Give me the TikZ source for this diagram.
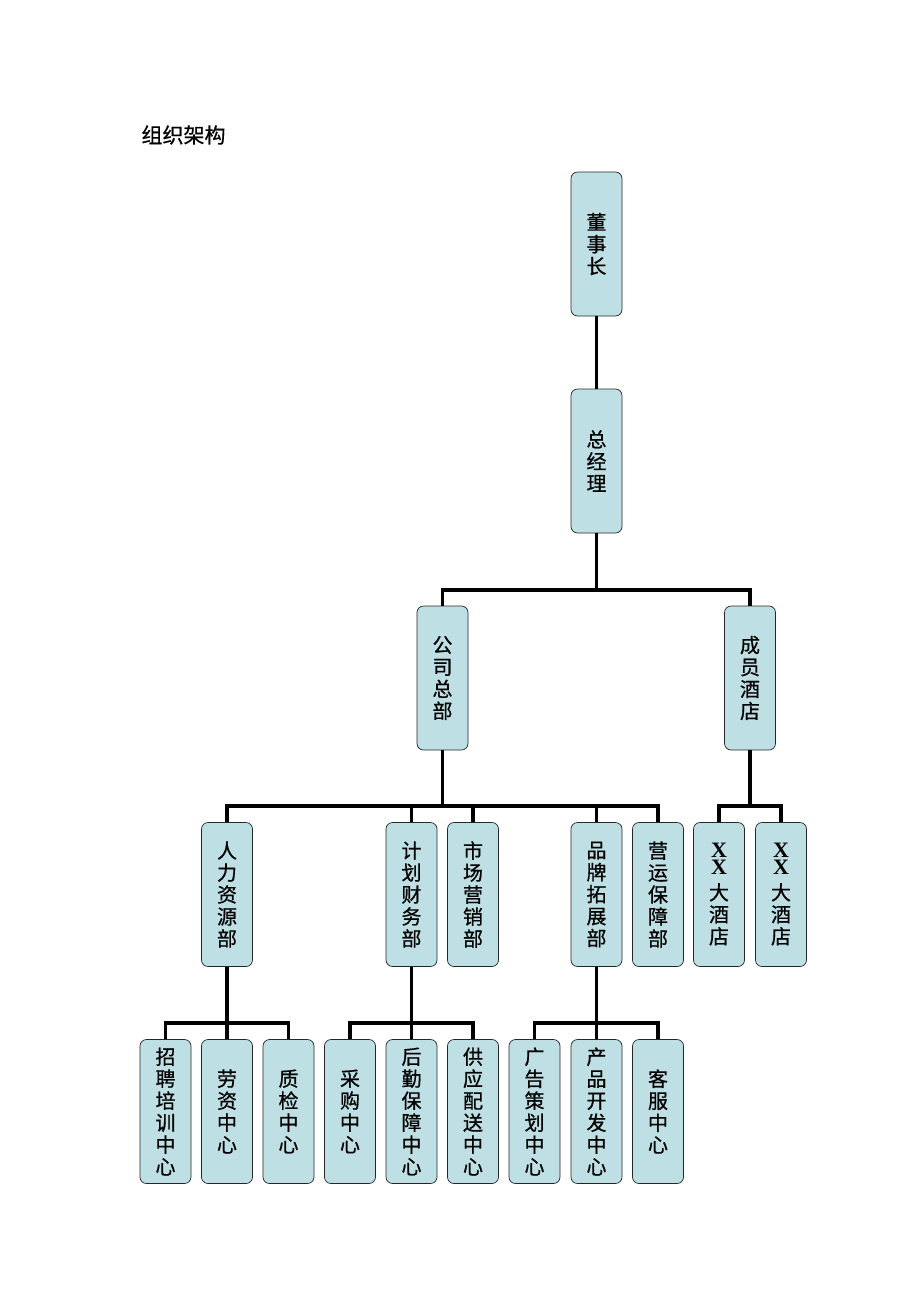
\documentclass[tikz,border=0pt]{standalone}
\usepackage{fontspec}
\setmainfont{Liberation Serif}
\newfontfamily\cjk[FakeBold=0.6]{Noto Sans CJK SC}
\definecolor{boxblue}{RGB}{190,224,228}
\newcommand{\bigx}{{\rmfamily\bfseries\fontsize{22}{22}\selectfont X}}
\newcommand{\stackxx}{\bigx\\[-5pt]\bigx\\[3pt]}

\begin{document}
\begin{tikzpicture}[x=1pt, y=-1pt]
  \tikzstyle{unit}=[draw=black!85, fill=boxblue, rounded corners=6.5pt, line width=0.7pt, minimum width=51pt, minimum height=144pt, inner sep=0pt, align=center, font=\fontsize{20}{22}\selectfont\cjk]
  \tikzstyle{link}=[draw, line width=3.3pt]

  \useasboundingbox (0,0) rectangle (920,1302);

  % titulo
  \node[anchor=west, font=\fontsize{21}{24}\selectfont\cjk] (title) at (138,135) {组织架构};

  % topo: presidente e gerente geral
  \node[unit] (chair) at (596.5,244) {董\\事\\长};
  \node[unit] (gm) at (596.5,461) {总\\经\\理};
  \draw[link] (chair) -- (gm);

  % segundo nivel
  \node[unit] (hq) at (442.5,678) {公\\司\\总\\部};
  \node[unit] (hotels) at (750,678) {成\\员\\酒\\店};
  \coordinate (busA) at (596.5,590);
  \draw[link] (gm) -- (busA);
  \draw[link] (hq.north) |- (busA);
  \draw[link] (hotels.north) |- (busA);

  % departamentos da sede
  \node[unit] (hr) at (227,894.5) {人\\力\\资\\源\\部};
  \node[unit] (fin) at (411.5,894.5) {计\\划\\财\\务\\部};
  \node[unit] (mkt) at (473,894.5) {市\\场\\营\\销\\部};
  \node[unit] (brand) at (596.5,894.5) {品\\牌\\拓\\展\\部};
  \node[unit] (ops) at (658,894.5) {营\\运\\保\\障\\部};
  \coordinate (busB) at (442.5,806);
  \draw[link] (hq) -- (busB);
  \foreach \d in {hr,fin,mkt,brand,ops} {
    \draw[link] (\d.north) |- (busB);
  }

  % hoteis membros
  \node[unit] (hotelA) at (719,894.5) {\stackxx 大\\酒\\店};
  \node[unit] (hotelB) at (781,894.5) {\stackxx 大\\酒\\店};
  \coordinate (busC) at (750,806);
  \draw[link] (hotels) -- (busC);
  \draw[link] (hotelA.north) |- (busC);
  \draw[link] (hotelB.north) |- (busC);

  % centros de recursos humanos
  \node[unit] (recruit) at (165.5,1111.5) {招\\聘\\培\\训\\中\\心};
  \node[unit] (labor) at (227,1111.5) {劳\\资\\中\\心};
  \node[unit] (qc) at (288.5,1111.5) {质\\检\\中\\心};
  \coordinate (busD) at (227,1023);
  \draw[link] (hr) -- (busD);
  \foreach \c in {recruit,labor,qc} {
    \draw[link] (\c.north) |- (busD);
  }

  % centros de financas
  \node[unit] (buy) at (350,1111.5) {采\\购\\中\\心};
  \node[unit] (logi) at (411.5,1111.5) {后\\勤\\保\\障\\中\\心};
  \node[unit] (supply) at (473,1111.5) {供\\应\\配\\送\\中\\心};
  \coordinate (busE) at (411.5,1023);
  \draw[link] (fin) -- (busE);
  \foreach \c in {buy,logi,supply} {
    \draw[link] (\c.north) |- (busE);
  }

  % centros de marca
  \node[unit] (adv) at (534.5,1111.5) {广\\告\\策\\划\\中\\心};
  \node[unit] (prod) at (596.5,1111.5) {产\\品\\开\\发\\中\\心};
  \node[unit] (cust) at (658,1111.5) {客\\服\\中\\心};
  \coordinate (busF) at (596.5,1023);
  \draw[link] (brand) -- (busF);
  \foreach \c in {adv,prod,cust} {
    \draw[link] (\c.north) |- (busF);
  }
\end{tikzpicture}
\end{document}
